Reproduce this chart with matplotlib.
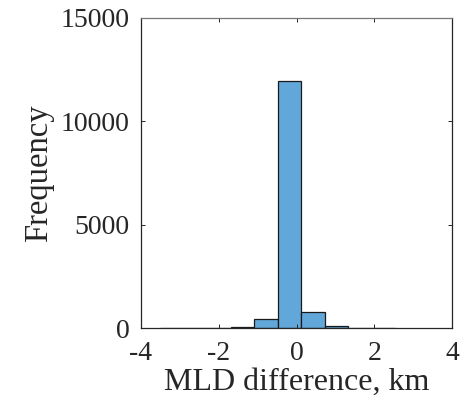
import matplotlib
matplotlib.use("Agg")
import matplotlib.pyplot as plt
import numpy as np

# histogram bins (km) and counts
bin_edges = [-3.51, -2.905, -2.30, -1.695, -1.09, -0.485, 0.12, 0.725, 1.33, 1.935, 2.54]
counts = [15, 15, 20, 70, 430, 11950, 790, 100, 25, 15]

x_ticks = [-4, -2, 0, 2, 4]
y_ticks = [0, 5000, 10000, 15000]

plt.rcParams['font.family'] = ['Liberation Serif', 'DejaVu Serif']

fig = plt.figure(figsize=(4.63, 4.09), dpi=100)
ax = fig.add_axes([0.3045, 0.198, 0.672, 0.758])

edges = np.array(bin_edges)
ax.bar(edges[:-1], counts, width=np.diff(edges), align='edge',
       color='#62A7DA', edgecolor='#1a1a1a', linewidth=0.9)

ax.set_xlim(-4, 4)
ax.set_ylim(0, 15000)
ax.set_xticks(x_ticks)
ax.set_yticks(y_ticks)
ax.set_xticklabels([str(t) for t in x_ticks])

for s in ax.spines.values():
    s.set_color('#262626')
    s.set_linewidth(0.9)
ax.spines['top'].set_color('#777777')
ax.tick_params(direction='in', length=3, width=0.7, color='#262626',
               labelsize=20, labelcolor='#262626', top=True, right=True)
ax.tick_params(axis='y', pad=8)
ax.tick_params(axis='x', pad=9)

ax.set_xlabel('MLD difference, km', fontsize=23, color='#262626', labelpad=2)
ax.set_ylabel('Frequency', fontsize=23.5, color='#262626', labelpad=5)

fig.savefig('out.png', dpi=100)
